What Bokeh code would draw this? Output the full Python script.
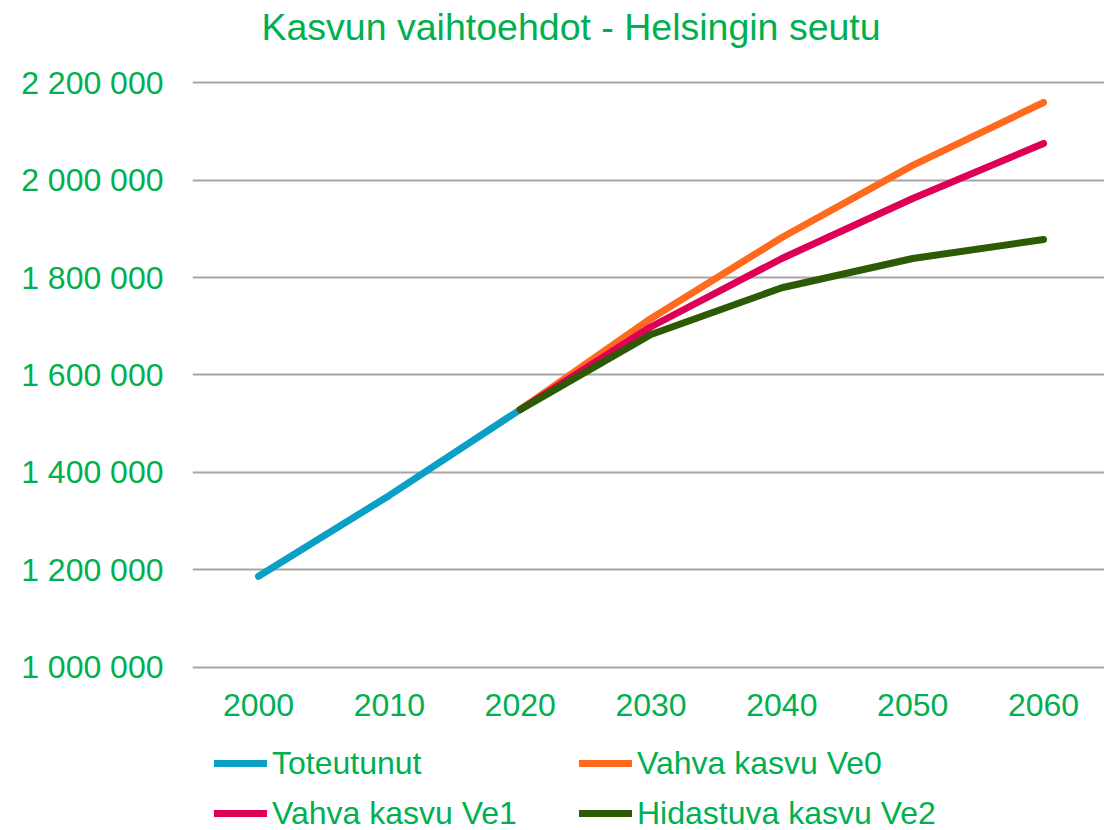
from bokeh.plotting import figure
from bokeh.layouts import column
from bokeh.models import Legend, LegendItem, FixedTicker, Range1d, Title
from bokeh.embed import file_html
from bokeh.resources import INLINE

# ---- data ----
years_hist = [2000, 2010, 2020]
toteutunut = [1187000, 1353000, 1529000]
years_proj = [2020, 2030, 2040, 2050, 2060]
ve0 = [1529000, 1716000, 1882000, 2030000, 2159000]
ve1 = [1529000, 1699000, 1839000, 1962000, 2075000]
ve2 = [1529000, 1683000, 1779000, 1839000, 1878000]
x_ticks = [2000, 2010, 2020, 2030, 2040, 2050, 2060]
y_ticks = [1000000, 1200000, 1400000, 1600000, 1800000, 2000000, 2200000]
y_labels = ["1 000 000", "1 200 000", "1 400 000", "1 600 000", "1 800 000", "2 000 000", "2 200 000"]
title_text = "Kasvun vaihtoehdot - Helsingin seutu"
series_names = ["Toteutunut", "Vahva kasvu Ve0", "Vahva kasvu Ve1", "Hidastuva kasvu Ve2"]
colors = ["#0A9FC5", "#FF6A1E", "#DE0057", "#2C5A05"]

GREEN = "#00B050"
FONT = "Liberation Sans"
W = 1104

p = figure(width=W, height=740, output_backend="svg", toolbar_location=None,
           x_range=Range1d(1994.955, 2064.66), y_range=Range1d(979487, 2271795),
           min_border_left=192, min_border_right=0, min_border_top=47, min_border_bottom=63)
p.outline_line_color = None
p.background_fill_color = "white"
p.border_fill_color = "white"

t = Title(text=title_text, align="left", offset=69, text_font_size="37.5px",
          text_color=GREEN, text_font=FONT, text_font_style="normal",
          vertical_align="bottom", standoff=0)
p.add_layout(t, "above")

p.xgrid.visible = False
p.ygrid.grid_line_color = "#A6A6A6"
p.ygrid.grid_line_width = 2

p.xaxis.ticker = FixedTicker(ticks=x_ticks)
p.yaxis.ticker = FixedTicker(ticks=y_ticks)
p.yaxis.major_label_overrides = {t_: l for t_, l in zip(y_ticks, y_labels)}
for ax in (p.xaxis, p.yaxis):
    ax.axis_line_color = None
    ax.major_tick_line_color = None
    ax.minor_tick_line_color = None
    ax.major_tick_out = 0
    ax.major_tick_in = 0
    ax.major_label_text_font_size = "32px"
    ax.major_label_text_color = GREEN
    ax.major_label_text_font = FONT
p.yaxis.major_label_standoff = 29
p.xaxis.major_label_standoff = 16

kw = dict(line_width=7, line_cap="round", line_join="round")
p.line(years_hist, toteutunut, line_color=colors[0], **kw)
p.line(years_proj, ve0, line_color=colors[1], **kw)
p.line(years_proj, ve1, line_color=colors[2], **kw)
p.line(years_proj, ve2, line_color=colors[3], **kw)

# ---- legend strip ----
q = figure(width=W, height=90, output_backend="svg", toolbar_location=None,
           x_range=Range1d(0, 1), y_range=Range1d(0, 1),
           min_border_left=0, min_border_right=0, min_border_top=0, min_border_bottom=0)
q.axis.visible = False
q.grid.visible = False
q.outline_line_color = None
q.background_fill_color = "white"
q.border_fill_color = "white"
nan = float("nan")
lr = [q.line([nan], [nan], line_color=c, **kw) for c in colors]

leg_kw = dict(label_text_font_size="32px", label_text_color=GREEN, label_text_font=FONT,
              glyph_width=53, glyph_height=38, label_height=38, label_standoff=5,
              spacing=12, padding=0, margin=0, border_line_color=None,
              background_fill_alpha=0, orientation="vertical")
leg1 = Legend(items=[LegendItem(label=series_names[0], renderers=[lr[0]]),
                     LegendItem(label=series_names[2], renderers=[lr[2]])],
              location=(22, -2), **leg_kw)
leg2 = Legend(items=[LegendItem(label=series_names[1], renderers=[lr[1]]),
                     LegendItem(label=series_names[3], renderers=[lr[3]])],
              location=(387, -2), **leg_kw)
q.add_layout(leg1, "center")
q.add_layout(leg2, "center")

layout = column(p, q, spacing=0)
open("out.html", "w").write(file_html(layout, INLINE))
